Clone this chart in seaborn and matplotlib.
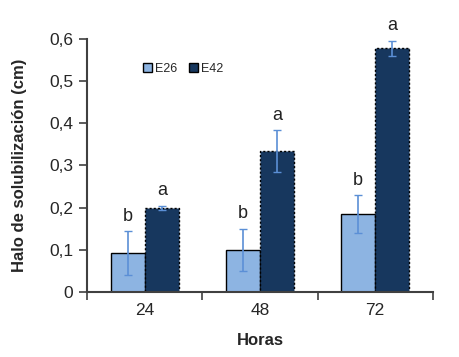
import pandas as pd
import numpy as np
import matplotlib
matplotlib.use('Agg')
import matplotlib.pyplot as plt
import seaborn as sns

horas = ['24', '48', '72']
cepas = ['E26', 'E42']
e26 = [0.093, 0.100, 0.185]
e42 = [0.200, 0.334, 0.578]
e26_err = [0.052, 0.050, 0.045]
e42_err = [0.005, 0.050, 0.018]
e26_letras = ['b', 'b', 'b']
e42_letras = ['a', 'a', 'a']

df = pd.DataFrame({
    'Horas': horas * 2,
    'valor': e26 + e42,
    'cepa': ['E26'] * 3 + ['E42'] * 3,
})

sns.set_theme(style='white')
plt.rcParams['font.family'] = ['Liberation Sans', 'DejaVu Sans']

fig = plt.figure(figsize=(4.59, 3.57), dpi=100)
ax = fig.add_axes([0.19, 0.182, 0.753, 0.709])

sns.barplot(data=df, x='Horas', y='valor', hue='cepa', order=horas, hue_order=cepas,
            palette=['#8db4e2', '#17375e'], saturation=1, width=0.59, errorbar=None,
            edgecolor='black', linewidth=1.0, ax=ax)

# error bars + letters on top of each bar
errs = e26_err + e42_err
vals = e26 + e42
letras = e26_letras + e42_letras
for i, p in enumerate(ax.patches[:6]):
    cx = p.get_x() + p.get_width() / 2
    ax.errorbar(cx, vals[i], yerr=errs[i], fmt='none', ecolor='#5b8fd6',
                elinewidth=1.2, capsize=3, capthick=1.0, clip_on=False)
    ax.text(cx, vals[i] + errs[i] + 0.015, letras[i], ha='center', va='bottom',
            fontsize=13, color='#222222')
    if i >= 3:
        p.set_linestyle((0, (1.5, 1.5)))

ax.set_ylim(0, 0.6)
ax.set_yticks(np.arange(0, 0.61, 0.1))
ax.set_yticklabels(['0', '0,1', '0,2', '0,3', '0,4', '0,5', '0,6'], fontsize=12.5)
ax.set_xticks([0, 1, 2])
ax.set_xticklabels(horas, fontsize=12.5)
ax.set_xlim(-0.5, 2.5)
ax.tick_params(axis='x', which='major', length=0, pad=8)
ax.set_xticks([-0.5, 0.5, 1.5, 2.5], minor=True)
ax.tick_params(axis='x', which='minor', length=6, width=1.2, color='#404040', direction='out', bottom=True)
ax.tick_params(axis='y', length=6, width=1.2, color='#404040', direction='out', left=True, pad=4)

for s in ['top', 'right']:
    ax.spines[s].set_visible(False)
for s in ['left', 'bottom']:
    ax.spines[s].set_color('#404040')
    ax.spines[s].set_linewidth(1.5)

ax.set_xlabel('Horas', fontsize=12, fontweight='bold', labelpad=11)
ax.set_ylabel('Halo de solubilización (cm)', fontsize=12, fontweight='bold', labelpad=16)

leg = ax.legend(loc='upper left', bbox_to_anchor=(0.13, 0.95), ncol=2, frameon=False,
                fontsize=9, handlelength=0.7, handleheight=0.7, handletextpad=0.2,
                columnspacing=1.0)

fig.savefig('out.png', dpi=100)
